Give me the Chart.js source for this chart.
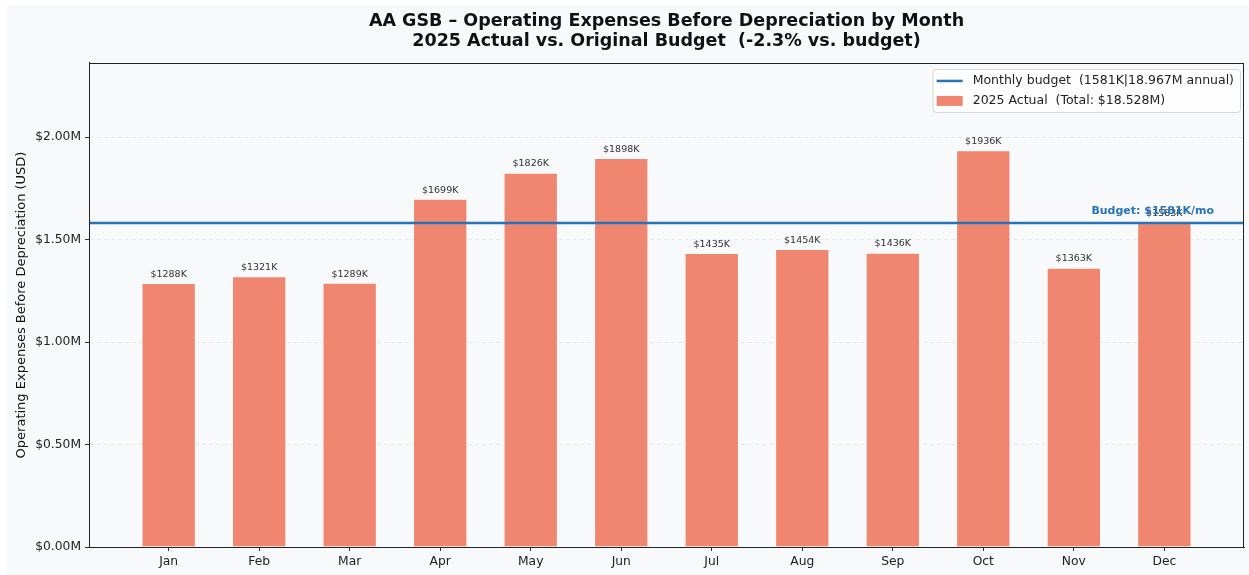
<!DOCTYPE html>
<html>
<head>
<meta charset="utf-8">
<script src="https://cdn.jsdelivr.net/npm/chart.js@4.4.1/dist/chart.umd.min.js"></script>
<style>
  html, body { margin: 0; padding: 0; background: #ffffff; }
  #wrap { position: absolute; left: 7px; top: 5px; width: 1242px; height: 570px; background: #f8f9fb; }
  canvas { display: block; }
</style>
</head>
<body>
<div id="wrap"><canvas id="chart" width="1242" height="570"></canvas></div>
<script>
// data (thousands of USD)
const months = ['Jan', 'Feb', 'Mar', 'Apr', 'May', 'Jun', 'Jul', 'Aug', 'Sep', 'Oct', 'Nov', 'Dec'];
const actualK = [1288, 1321, 1289, 1699, 1826, 1898, 1435, 1454, 1436, 1936, 1363, 1583];
const budgetK = 1581;
const annualBudget = '18.967M';
const totalActual = '18.528M';
const yTicksK = [0, 500, 1000, 1500, 2000];

const titleLines = [
  'AA GSB \u2013 Operating Expenses Before Depreciation by Month',
  '2025 Actual vs. Original Budget  (-2.3% vs. budget)'
];
const yTitle = 'Operating Expenses Before Depreciation (USD)';

const FONT = "'DejaVu Sans', 'Liberation Sans', sans-serif";
const BAR_COLOR = '#f08670';
const LINE_COLOR = '#2673b8';
const X_MIN = -0.88, X_MAX = 11.88;

// labels on bars, budget tag, legend, top/right spines
const extras = {
  id: 'extras',
  afterDraw(chart) {
    const ctx = chart.ctx;
    const area = chart.chartArea;
    const x = chart.scales.x, y = chart.scales.y;

    // spines
    ctx.save();
    ctx.strokeStyle = '#222';
    ctx.lineWidth = 1;
    ctx.strokeRect(Math.round(area.left) + 0.5, Math.round(area.top) + 0.5,
      Math.round(area.right - area.left) - 1, Math.round(area.bottom - area.top));
    ctx.restore();

    // value labels
    ctx.save();
    ctx.font = '9.5px ' + FONT;
    ctx.fillStyle = '#333';
    ctx.textAlign = 'center';
    ctx.textBaseline = 'bottom';
    chart.getDatasetMeta(0).data.forEach((bar, i) => {
      ctx.fillText('$' + actualK[i] + 'K', bar.x, bar.y - 4);
    });
    ctx.restore();

    // budget tag
    ctx.save();
    ctx.font = 'bold 11px ' + FONT;
    ctx.fillStyle = LINE_COLOR;
    ctx.textAlign = 'right';
    ctx.textBaseline = 'middle';
    ctx.fillText('Budget: $' + budgetK + 'K/mo', x.getPixelForValue(11.55), y.getPixelForValue(budgetK) - 12);
    ctx.restore();

    // legend
    const labels = chart.data.datasets.map(d => d.label);
    const order = [1, 0];
    ctx.save();
    ctx.font = '12.5px ' + FONT;
    const textW = Math.max(...order.map(i => ctx.measureText(labels[i]).width));
    const bw = 4 + 26 + 10 + textW + 6;
    const bh = 43;
    const bx = area.right - 4 - bw;
    const by = area.top + 6;
    ctx.beginPath();
    ctx.roundRect(bx + 0.5, by + 0.5, bw, bh, 3);
    ctx.fillStyle = 'rgba(255,255,255,0.8)';
    ctx.fill();
    ctx.strokeStyle = '#d6d6d6';
    ctx.lineWidth = 1;
    ctx.stroke();
    ctx.textAlign = 'left';
    ctx.textBaseline = 'middle';
    order.forEach((di, r) => {
      const cy = by + 12 + r * 20;
      const ds = chart.data.datasets[di];
      if (ds.type === 'line') {
        ctx.strokeStyle = ds.borderColor;
        ctx.lineWidth = 2.5;
        ctx.beginPath();
        ctx.moveTo(bx + 4, cy);
        ctx.lineTo(bx + 30, cy);
        ctx.stroke();
      } else {
        ctx.fillStyle = ds.backgroundColor;
        ctx.fillRect(bx + 4, cy - 5, 26, 10);
      }
      ctx.fillStyle = '#222';
      ctx.fillText(labels[di], bx + 40, cy);
    });
    ctx.restore();
  }
};

new Chart(document.getElementById('chart'), {
  data: {
    datasets: [
      {
        type: 'bar',
        label: '2025 Actual  (Total: $' + totalActual + ')',
        data: months.map((m, i) => ({ x: i, y: actualK[i] })),
        backgroundColor: BAR_COLOR,
        borderColor: 'rgba(255,255,255,0.35)',
        borderWidth: 1,
        barPercentage: 0.6,
        categoryPercentage: 1,
        order: 1
      },
      {
        type: 'line',
        label: 'Monthly budget  (' + budgetK + 'K|' + annualBudget + ' annual)',
        data: [{ x: X_MIN, y: budgetK }, { x: X_MAX, y: budgetK }],
        borderColor: LINE_COLOR,
        borderWidth: 2.3,
        pointRadius: 0,
        order: 0
      }
    ]
  },
  options: {
    responsive: false,
    animation: false,
    layout: { padding: { left: 0, right: 5, top: 0, bottom: 0 } },
    plugins: {
      legend: { display: false },
      tooltip: { enabled: false },
      title: {
        display: true,
        text: titleLines,
        fullSize: false,
        color: '#111',
        font: { family: FONT, size: 17.5, weight: 'bold', lineHeight: 1.17 },
        padding: { top: 6, bottom: 11 }
      }
    },
    scales: {
      x: {
        type: 'linear',
        offset: false,
        min: X_MIN,
        max: X_MAX,
        afterBuildTicks: s => { s.ticks = months.map((m, i) => ({ value: i })); },
        afterFit: s => { s.height = 28; },
        ticks: {
          callback: v => months[v],
          autoSkip: false,
          maxRotation: 0,
          color: '#222',
          padding: 3,
          font: { family: FONT, size: 12.3 }
        },
        grid: { offset: false, drawOnChartArea: false, tickLength: 4, tickColor: '#333', tickWidth: 1 },
        border: { color: '#222', width: 1 }
      },
      y: {
        type: 'linear',
        min: 0,
        max: Math.max(...actualK) * 1.22,
        afterBuildTicks: s => { s.ticks = yTicksK.map(v => ({ value: v })); },
        afterFit: s => { s.width = 82; },
        ticks: {
          callback: v => '$' + (v / 1000).toFixed(2) + 'M',
          color: '#222',
          padding: 4,
          font: { family: FONT, size: 12.3 }
        },
        grid: { color: 'rgba(0,0,0,0.09)', lineWidth: 0.8, tickLength: 4, tickColor: '#333', tickWidth: 1 },
        border: { color: '#222', width: 1, dash: [4, 3] },
        title: {
          display: true,
          text: yTitle,
          color: '#111',
          padding: { top: 7, bottom: 0 },
          font: { family: FONT, size: 13 }
        }
      }
    }
  },
  plugins: [extras]
});
</script>
</body>
</html>
